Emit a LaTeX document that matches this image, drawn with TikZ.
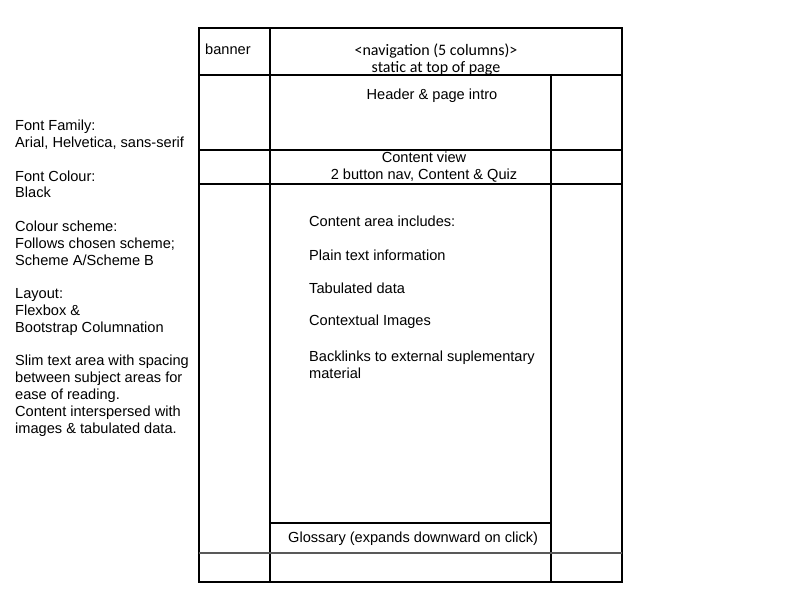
\documentclass[tikz,border=0pt]{standalone}
\usepackage{fontspec}
\setmainfont{Liberation Sans}
\newfontfamily\navfont{Carlito}
\usetikzlibrary{positioning}

\begin{document}
\begin{tikzpicture}[
x=1pt, y=-1pt,
frame/.style={line width=1.8pt, black},
label/.style={font=\fontsize{14.6}{16.8}\selectfont, inner sep=0pt, align=left, anchor=west},
centred/.style={font=\fontsize{14.6}{16.8}\selectfont, inner sep=0pt, align=center}
]
\useasboundingbox (0,0) rectangle (800,600);

% outer frame and columns
\draw[frame] (199,28) rectangle (622,582);
\draw[frame] (270,28) -- (270,582);
\draw[frame] (551,75) -- (551,582);
\draw[frame] (199,75) -- (622,75);
\draw[frame] (199,150) -- (622,150);
\draw[frame] (199,184) -- (622,184);
\draw[frame] (270,523) -- (551,523);
\draw[line width=1.5pt, black!65] (199,553) -- (622,553);

% top row
\node[label] (banner) at (205,49) {banner};
\node[centred, font=\navfont\fontsize{16}{16.8}\selectfont] (nav) at (436,59.5)
    {<navigation (5 columns)>\\static at top of page};

% page rows
\node[centred] (header) at (432,96) {Header \& page intro};
\node[centred] (view) at (424,167) {Content view\\2 button nav, Content \& Quiz};

\node[label] (content) at (309,221) {Content area includes:};
\node[label] (plain) at (309,255) {Plain text information};
\node[label] (tables) at (309,288) {Tabulated data};
\node[label] (images) at (309,322) {Contextual Images};
\node[label] (links) at (309,364.5) {Backlinks to external suplementary\\material};

\node[label] (glossary) at (288,539) {Glossary (expands downward on click)};

% notes
\node[label, anchor=north west] (notes) at (15,120)
    {Font Family:\\Arial, Helvetica, sans-serif\\[16.8pt]
     Font Colour:\\Black\\[16.8pt]
     Colour scheme:\\Follows chosen scheme;\\Scheme A/Scheme B\\[16.8pt]
     Layout:\\Flexbox \&\\Bootstrap Columnation\\[16.8pt]
     Slim text area with spacing\\between subject areas for\\ease of reading.\\Content interspersed with\\images \& tabulated data.};

\end{tikzpicture}
\end{document}
